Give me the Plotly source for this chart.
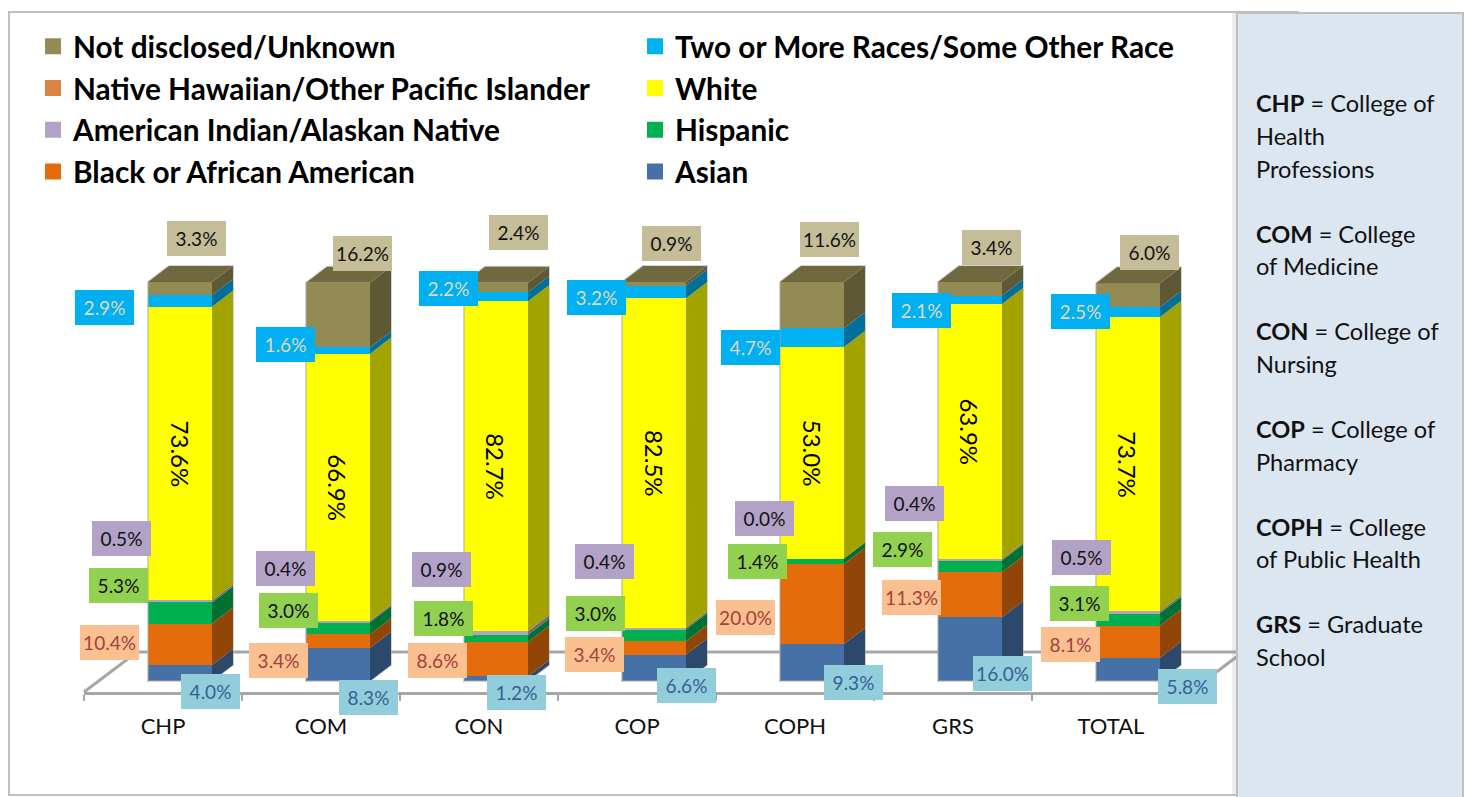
import plotly.graph_objects as go

categories = ["CHP", "COM", "CON", "COP", "COPH", "GRS", "TOTAL"]
asian = [4.0, 8.3, 1.2, 6.6, 9.3, 16.0, 5.8]
black = [10.4, 3.4, 8.6, 3.4, 20.0, 11.3, 8.1]
hispanic = [5.3, 3.0, 1.8, 3.0, 1.4, 2.9, 3.1]
american_indian = [0.5, 0.4, 0.9, 0.4, 0.0, 0.4, 0.5]
white = [73.6, 66.9, 82.7, 82.5, 53.0, 63.9, 73.7]
native_hawaiian = [0.0, 0.0, 0.0, 0.0, 0.0, 0.0, 0.0]
two_or_more = [2.9, 1.6, 2.2, 3.2, 4.7, 2.1, 2.5]
not_disclosed = [3.3, 16.2, 2.4, 0.9, 11.6, 3.4, 6.0]

panel_lines = [
    "<b>CHP</b> = College of", "Health", "Professions", "",
    "<b>COM</b> = College", "of Medicine", "",
    "<b>CON</b> = College of", "Nursing", "",
    "<b>COP</b> = College of", "Pharmacy", "",
    "<b>COPH</b> = College", "of Public Health", "",
    "<b>GRS</b> = Graduate", "School",
]

W, H = 1468, 797
FONT = "Lato"
PLOT_L, PLOT_R, PLOT_T, PLOT_B = 84, 1190, 200, 692
ZERO_PX, PX_PER_UNIT = 681, 3.99
CAT_PX = (PLOT_R - PLOT_L) / len(categories)
BAR_SHIFT = 17 / CAT_PX
BAR_W = 64 / CAT_PX
DX, DY = 21 / CAT_PX, 16 / PX_PER_UNIT


def xpx(v):
    return PLOT_L + (v + 0.5) * CAT_PX


def ypx(v):
    return ZERO_PX - v * PX_PER_UNIT


def shade(hex_color, f):
    r, g, b = (int(hex_color[i:i + 2], 16) for i in (1, 3, 5))
    return f"rgb({int(r * f)},{int(g * f)},{int(b * f)})"


# name, values, colour, label background, label text colour, legend rank
series = [
    ("Asian", asian, "#4571a6", "#92cddc", "#376092", 8),
    ("Black or African American", black, "#e46c0a", "#fac090", "#a5403c", 7),
    ("Hispanic", hispanic, "#00b050", "#92d050", "#111111", 6),
    ("American Indian/Alaskan Native", american_indian, "#b3a2c7", "#b3a2c7", "#111111", 5),
    ("White", white, "#ffff00", None, "#000000", 4),
    ("Native Hawaiian/Other Pacific Islander", native_hawaiian, "#dc8444", None, None, 3),
    ("Two or More Races/Some Other Race", two_or_more, "#00b0f0", "#00b0f0", "#ddd9c3", 2),
    ("Not disclosed/Unknown", not_disclosed, "#948a54", "#c4bd97", "#111111", 1),
]

# hand-placed label centres of the source chart, in page pixels
label_px = {
    "Asian": [(210.5, 691.5), (368.5, 697.5), (516, 692), (686, 686), (853, 682), (1002, 673), (1187, 686)],
    "Black or African American": [(109, 643), (278, 660), (437, 660), (594, 655), (745, 618), (911, 597), (1070, 644)],
    "Hispanic": [(118, 586), (288, 611), (443, 618), (595, 613), (757, 561), (902, 549), (1079, 604)],
    "American Indian/Alaskan Native": [(121, 538), (285, 568), (441, 570), (604, 562), (764, 518), (914, 504), (1081, 558)],
    "Two or More Races/Some Other Race": [(104, 308), (285, 344), (448, 289), (596, 298), (750, 348), (921, 310), (1080, 312)],
    "Not disclosed/Unknown": [(196.5, 238.5), (362, 253), (518, 232), (671, 243), (829, 240), (991, 248), (1149.5, 252)],
}

fig = go.Figure()
xs = [i + BAR_SHIFT for i in range(len(categories))]
totals = [sum(s[1][i] for s in series) for i in range(len(categories))]

ybot = (ZERO_PX - PLOT_B) / PX_PER_UNIT
x0, x1 = -0.5, len(categories) - 0.5

# front faces
for name, vals, color, *_ in series:
    fig.add_trace(go.Bar(x=xs, y=vals, width=BAR_W, name=name, marker=dict(color=color, line=dict(width=0)),
                         showlegend=False))

# soft grey edge round each column
ox, oy = [], []
for i, t in enumerate(totals):
    xl, xr = xs[i] - BAR_W / 2, xs[i] + BAR_W / 2
    ox += [xl, xl, xr, xr + DX, xr + DX, xl + DX, xl, None]
    oy += [t, 0, 0, DY, t + DY, t + DY, t, None]
fig.add_trace(go.Scatter(x=ox, y=oy, mode="lines", line=dict(color="rgba(170,170,170,0.5)", width=2),
                         hoverinfo="skip", showlegend=False, cliponaxis=False))

# side faces and caps
cum = [0.0] * len(categories)
annotations = []
for name, vals, color, bg, fg, rank in series:
    px, py = [], []
    for i, v in enumerate(vals):
        xr = xs[i] + BAR_W / 2
        b, t = cum[i], cum[i] + v
        px += [xr, xr + DX, xr + DX, xr, xr, None]
        py += [b, b + DY, t + DY, t, b, None]
        mid = b + v / 2
        if name == "White":
            annotations.append(dict(x=xs[i], y=mid, xref="x", yref="y", text=f"{v:.1f}%", textangle=90,
                                    showarrow=False, font=dict(family=FONT, size=24, color=fg)))
        elif name in label_px:
            lx, ly = label_px[name][i]
            annotations.append(dict(x=xs[i], y=mid, xref="x", yref="y", text=f"{v:.1f}%", showarrow=False,
                                    xshift=lx - xpx(xs[i]), yshift=ypx(mid) - ly, width=59, height=35,
                                    bgcolor=bg, borderpad=0, borderwidth=0, align="center", valign="middle",
                                    font=dict(family=FONT, size=19, color=fg)))
        cum[i] = t
    fig.add_trace(go.Scatter(x=px, y=py, mode="lines", fill="toself", fillcolor=shade(color, 0.64),
                             line=dict(width=0), hoverinfo="skip", showlegend=False, cliponaxis=False))

px, py = [], []
for i, t in enumerate(cum):
    xl, xr = xs[i] - BAR_W / 2, xs[i] + BAR_W / 2
    px += [xl, xr, xr + DX, xl + DX, xl, None]
    py += [t, t, t + DY, t + DY, t, None]
fig.add_trace(go.Scatter(x=px, y=py, mode="lines", fill="toself", fillcolor=shade(series[-1][2], 0.76),
                         line=dict(width=0), hoverinfo="skip", showlegend=False, cliponaxis=False))

# legend entries
for name, vals, color, bg, fg, rank in series:
    fig.add_trace(go.Scatter(x=[None], y=[None], mode="markers", name=name, legendrank=rank,
                             marker=dict(symbol="square", size=18, color=color)))

# floor of the 3-D box, behind the columns
FLOOR_DX, FLOOR_DY = 53, 40
fl, fr = xpx(x0) / W, xpx(x1) / W
ff, fb = 1 - PLOT_B / H, 1 - (PLOT_B - FLOOR_DY) / H
fd = FLOOR_DX / W
floor_path = f"M {fl} {ff} L {fl + fd} {fb} L {fr + fd} {fb} L {fr} {ff}"

# boxes
shapes = [
    dict(type="rect", xref="paper", yref="paper", x0=9 / W, x1=1298 / W, y0=1 - 795 / H, y1=1 - 12 / H,
         line=dict(color="#c0c0c0", width=2), fillcolor="#ffffff", layer="below"),
    dict(type="path", xref="paper", yref="paper", path=floor_path,
         line=dict(color="#a6a6a6", width=3), layer="below"),
    dict(type="rect", xref="paper", yref="paper", x0=1232 / W, x1=1237 / W, y0=1 - 795 / H, y1=1 - 13 / H,
         line=dict(width=0), fillcolor="rgba(150,150,150,0.18)", layer="above"),
    dict(type="rect", xref="paper", yref="paper", x0=1237 / W, x1=1463 / W, y0=-0.01, y1=1 - 13 / H,
         line=dict(color="#bfbfbf", width=2), fillcolor="#dce6f1", layer="above"),
]

# side panel text
for n, line in enumerate(panel_lines):
    if line:
        annotations.append(dict(x=1254 / W, y=1 - (103.5 + n * 32.55) / H, xref="paper", yref="paper", text=line,
                                xanchor="left", yanchor="middle", showarrow=False,
                                font=dict(family=FONT, size=23.6, color="#111111")))

fig.update_layout(
    width=W, height=H, autosize=False, margin=dict(l=0, r=0, t=0, b=0),
    paper_bgcolor="#ffffff", plot_bgcolor="rgba(0,0,0,0)", barmode="stack", bargap=0,
    xaxis=dict(domain=[PLOT_L / W, PLOT_R / W], range=[x0, x1], tickmode="array",
               tickvals=list(range(len(categories))), ticktext=categories, ticks="", showgrid=False, zeroline=False,
               showline=True, linecolor="#a6a6a6", linewidth=3, ticklabelstandoff=13,
               tickfont=dict(family=FONT, size=22, color="#111111"),
               minor=dict(tickmode="array", tickvals=[i - 0.5 for i in range(len(categories) + 1)],
                          ticks="outside", ticklen=6, tickwidth=2, tickcolor="#a6a6a6")),
    yaxis=dict(domain=[1 - PLOT_B / H, 1 - PLOT_T / H], range=[ybot, (ZERO_PX - PLOT_T) / PX_PER_UNIT],
               visible=False),
    legend=dict(orientation="h", x=33 / W, y=1 - 20.5 / H, xanchor="left", yanchor="top", entrywidth=557,
                entrywidthmode="pixels", itemsizing="trace", traceorder="normal",
                font=dict(family=FONT, size=29.8, color="#000000", weight="bold"), bgcolor="rgba(0,0,0,0)"),
    shapes=shapes, annotations=annotations, hovermode=False,
)

fig.write_html("out.html", config={"displayModeBar": False},
               post_script="document.body.style.margin='0';document.body.style.overflow='hidden';")
